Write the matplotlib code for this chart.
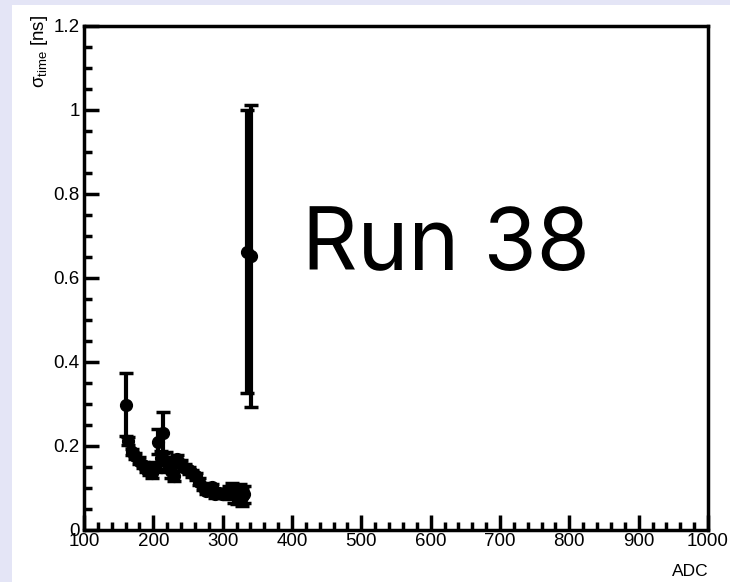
import matplotlib
matplotlib.use("Agg")
import matplotlib.pyplot as plt
from matplotlib import font_manager
from matplotlib.patches import Rectangle
from matplotlib.ticker import MultipleLocator, FuncFormatter

# ---- data ----
adc = [160, 164, 169, 174, 180, 185, 189, 194, 198, 203, 207, 211, 214, 218,
       221, 226, 230, 234, 240, 246, 251, 256, 261, 266, 271, 276, 281, 285,
       289, 294, 299, 304, 309, 313, 317, 321, 325, 328, 331, 335, 341]
sigma = [0.298, 0.212, 0.186, 0.176, 0.165, 0.155, 0.145, 0.140, 0.135, 0.150,
         0.210, 0.172, 0.232, 0.165, 0.155, 0.140, 0.128, 0.168, 0.158, 0.148,
         0.142, 0.135, 0.128, 0.115, 0.103, 0.093, 0.098, 0.102, 0.085, 0.088,
         0.086, 0.088, 0.090, 0.095, 0.085, 0.082, 0.090, 0.078, 0.085, 0.663,
         0.652]
sigma_err = [0.075, 0.010, 0.008, 0.008, 0.008, 0.008, 0.008, 0.008, 0.010, 0.012,
             0.030, 0.015, 0.048, 0.020, 0.018, 0.015, 0.012, 0.010, 0.008, 0.008,
             0.008, 0.008, 0.008, 0.008, 0.008, 0.008, 0.008, 0.008, 0.008, 0.008,
             0.008, 0.010, 0.015, 0.018, 0.020, 0.020, 0.020, 0.020, 0.020, 0.337,
             0.360]
x_ticks = [100, 200, 300, 400, 500, 600, 700, 800, 900, 1000]
y_ticks = [0, 0.2, 0.4, 0.6, 0.8, 1.0, 1.2]

names = {f.name for f in font_manager.fontManager.ttflist}
font = "Liberation Sans Narrow" if "Liberation Sans Narrow" in names else "Liberation Sans"
tick_size = 16 if font == "Liberation Sans Narrow" else 13.5

plt.rcParams["mathtext.fontset"] = "custom"
plt.rcParams["mathtext.rm"] = font
plt.rcParams["mathtext.it"] = font
plt.rcParams["mathtext.bf"] = font + ":bold"

W, H = 730, 582
fig = plt.figure(figsize=(W / 100, H / 100), dpi=100, facecolor="#e4e5f6")
# white panel
fig.patches.append(Rectangle((12 / W, 0), 1 - 12 / W, 1 - 5 / H,
                             transform=fig.transFigure, facecolor="white",
                             edgecolor="none", zorder=-10))

ax = fig.add_axes([84 / W, 1 - 530 / H, (708 - 84) / W, (530 - 26) / H])
ax.set_facecolor("white")
ax.set_zorder(5)

ax.errorbar(adc, sigma, yerr=sigma_err, fmt="o", color="black", ms=8.5,
            elinewidth=3, capsize=5, capthick=2.5, zorder=3)

ax.set_xlim(100, 1000)
ax.set_ylim(0, 1.2)
ax.set_xticks(x_ticks)
ax.set_yticks(y_ticks)
ax.xaxis.set_minor_locator(MultipleLocator(20))
ax.yaxis.set_minor_locator(MultipleLocator(0.05))
ax.yaxis.set_major_formatter(FuncFormatter(lambda v, p: "%g" % v))
ax.xaxis.set_major_formatter(FuncFormatter(lambda v, p: "%g" % v))

for s in ax.spines.values():
    s.set_linewidth(2.5)

ax.tick_params(which="both", direction="in", top=False, right=False,
               width=2.5, labelsize=tick_size, color="black")
ax.tick_params(axis="x", which="major", length=11, pad=2)
ax.tick_params(axis="y", which="major", length=11, pad=3)
ax.tick_params(which="minor", length=6)
for lab in ax.get_xticklabels() + ax.get_yticklabels():
    lab.set_fontfamily(font)

fig.text(690 / W, 1 - 576 / H, "ADC", ha="center", va="baseline",
         fontsize=tick_size - 1, family=font, zorder=6)
fig.text(40 / W, 1 - 15 / H, r"$\sigma_{\mathrm{time}}$ [ns]", rotation=90,
         ha="center", va="top", fontsize=tick_size, family=font, zorder=6)

# "Run 38" annotation, centred at pixel x=446 (ADC ~622), baseline at 0.62
ax.text(622, 0.62, "Run 38", ha="center", va="baseline", fontsize=62,
        family="Inter", color="black", transform=ax.transData)

fig.savefig("out.png", dpi=100, facecolor=fig.get_facecolor())
